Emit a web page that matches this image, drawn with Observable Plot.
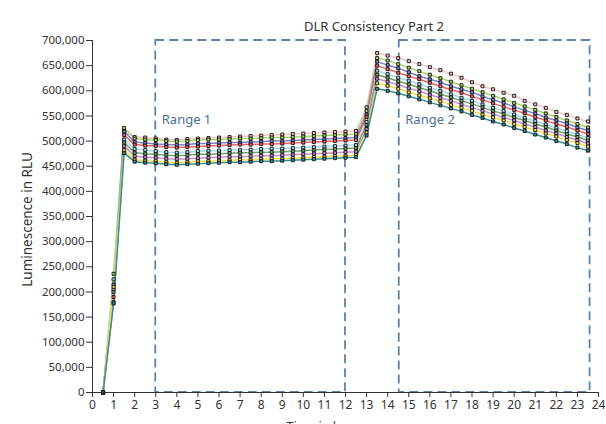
<!DOCTYPE html>
<html><head><meta charset="utf-8">
<script src="https://cdn.jsdelivr.net/npm/d3@7"></script>
<script src="https://cdn.jsdelivr.net/npm/@observablehq/plot@0.6"></script>
<style>
body{margin:0;background:#fff;font-family:"Noto Sans",sans-serif;}
#title{position:relative;height:36px;width:606px;}
#title span{position:absolute;left:0;width:606px;padding-left:142px;box-sizing:border-box;text-align:center;top:18px;font-size:13px;line-height:16px;color:#333;}
</style></head><body>
<div id="title"><span>DLR Consistency Part 2</span></div>
<div id="chart"></div>
<script>
// Time points (h)
const times = [0.5,1,1.5,2,2.5,3,3.5,4,4.5,5,5.5,6,6.5,7,7.5,8,8.5,9,9.5,10,10.5,11,11.5,12,12.5,13,13.5,14,14.5,15,15.5,16,16.5,17,17.5,18,18.5,19,19.5,20,20.5,21,21.5,22,22.5,23,23.5];
const seriesNames = ["Well 1","Well 2","Well 3","Well 4","Well 5","Well 6","Well 7","Well 8","Well 9"];
const seriesColors = ["#f3c6c6","#a6d36c","#7e81c9","#e8656c","#a3d9e6","#72a072","#c690c7","#f1df4e","#3b8d8d"];
// Luminescence values in thousands of RLU
const well1 = [0,205,520,508,507,505,503,502,504,505,506,507,508,509,510,511,512,513,514,515,516,517,518,519,520,567,675,670,665,659,653,647,641,634,626,617,609,603,596,590,580,573,566,558,552,545,539];
const well2 = [0,236,526,505,503,502,500,499,500,502,503,503,504,505,505,506,507,507,508,509,510,511,512,513,514,560,665,660,653,646,639,632,625,618,611,604,597,590,583,576,569,562,555,548,541,534,527];
const well3 = [0,215,519,498,496,494,493,492,493,495,495,496,497,497,498,499,500,500,501,502,503,504,505,506,507,553,658,651,645,637,629,623,617,609,603,597,589,582,576,568,561,555,547,541,535,527,521];
const well4 = [0,190,512,493,491,490,488,487,488,489,490,491,492,493,493,494,494,495,496,497,498,499,500,501,502,548,650,643,636,629,623,616,609,602,596,589,582,575,568,562,555,548,541,534,528,521,514];
const well5 = [0,225,503,484,482,480,478,477,478,480,481,481,482,482,483,484,485,485,486,487,488,489,490,491,492,538,640,633,626,620,613,606,600,593,586,580,573,566,560,553,546,540,533,526,520,513,506];
const well6 = [0,200,497,477,475,474,472,471,472,474,474,475,476,477,477,478,478,479,480,481,482,483,484,485,486,532,632,626,619,613,606,600,593,587,580,574,567,560,554,547,541,534,528,521,514,508,501];
const well7 = [0,180,490,470,468,467,465,464,465,466,467,468,469,469,470,471,471,472,473,474,475,476,477,478,479,524,624,618,612,605,599,592,586,580,573,567,560,554,547,541,534,528,521,515,508,502,495];
const well8 = [0,210,482,463,461,460,458,457,458,460,460,461,462,463,463,464,465,465,466,467,468,469,470,471,472,517,615,610,604,597,591,585,579,572,566,560,553,547,541,534,528,522,515,509,502,496,489];
const well9 = [0,177,476,459,457,456,454,453,454,455,456,457,458,458,459,460,460,461,462,463,464,465,466,467,468,511,604,600,595,589,583,577,571,565,559,552,546,539,533,526,520,513,507,500,494,487,481];
const seriesValues = [well1,well2,well3,well4,well5,well6,well7,well8,well9];
const xTicks = [0,1,2,3,4,5,6,7,8,9,10,11,12,13,14,15,16,17,18,19,20,21,22,23,24];
const yTicks = [0,50000,100000,150000,200000,250000,300000,350000,400000,450000,500000,550000,600000,650000,700000];
const rangeLabels = ["Range 1","Range 2"];
const rangeStart = [3,14.55];
const rangeEnd = [12,23.6];
const yTitle = "Luminescence in RLU";
const xTitle = "Time in h";

const table = [];
seriesNames.forEach((name, s) => times.forEach((t, i) => table.push({time: t, value: seriesValues[s][i] * 1000, series: name})));
const ranges = rangeLabels.map((label, i) => ({label, x1: rangeStart[i], x2: rangeEnd[i], y1: 0, y2: 700000}));

const boxColor = "#5f83a8";
const chart = Plot.plot({
  width: 606, height: 388,
  marginLeft: 92, marginRight: 8, marginTop: 4, marginBottom: 32,
  style: {fontFamily: "Noto Sans", fontSize: "11.5px", color: "#333", background: "#fff", overflow: "visible"},
  x: {domain: [0, 24]},
  y: {domain: [0, 700000]},
  color: {domain: seriesNames, range: seriesColors},
  marks: [
    Plot.rect(ranges, {x1: "x1", x2: "x2", y1: "y1", y2: "y2", fill: "none", stroke: boxColor, strokeWidth: 1.8, strokeDasharray: "9,5"}),
    Plot.text(ranges, {x: "x1", y: "y2", text: "label", dx: 6, dy: 83, textAnchor: "start", lineAnchor: "bottom", fill: "#4d7196", fontSize: 13}),
    Plot.line(table, {x: "time", y: "value", z: "series", stroke: "series", strokeWidth: 1.5}),
    Plot.dot(table, {x: "time", y: "value", fill: "series", stroke: "#111", strokeWidth: 0.9, symbol: "square", r: 1.7}),
    Plot.ruleY([0], {stroke: "#333"}),
    Plot.ruleX([0], {stroke: "#333"}),
    Plot.axisY({ticks: yTicks, tickFormat: d3.format(","), tickSize: 6, tickPadding: 2, fontSize: 11.5, label: null}),
    Plot.axisX({ticks: xTicks, tickFormat: d => String(d), tickSize: 5, tickPadding: 3, fontSize: 12, label: null}),
    Plot.text([yTitle], {text: d => d, frameAnchor: "left", rotate: -90, dx: -70, dy: 3, lineAnchor: "top", textAnchor: "middle", fontSize: 13.5, fill: "#333"}),
    Plot.text([xTitle], {text: d => d, frameAnchor: "bottom", dx: -32, dy: 30, lineAnchor: "top", textAnchor: "middle", fontSize: 12.5, fill: "#333"})
  ]
});
document.getElementById("chart").appendChild(chart);
</script>
</body></html>
